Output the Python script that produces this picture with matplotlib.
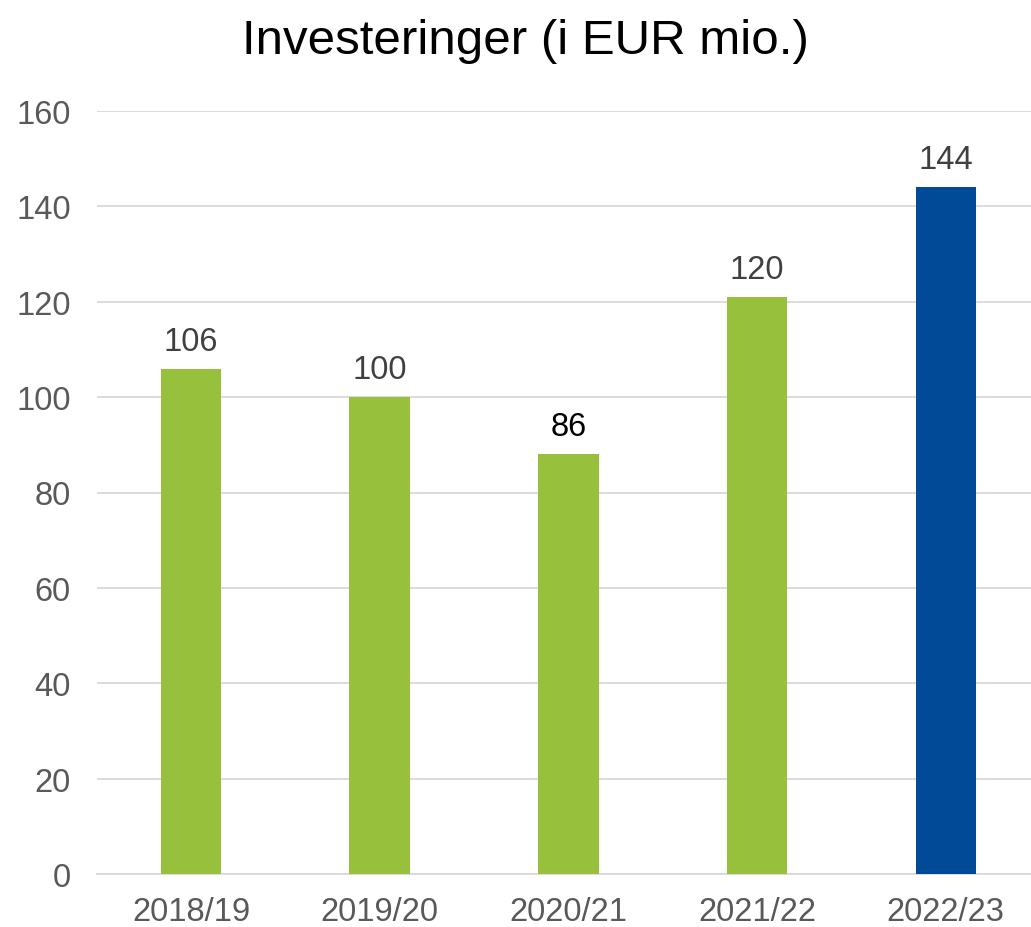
import matplotlib
matplotlib.use("Agg")
import matplotlib.pyplot as plt

plt.rcParams["font.family"] = ["Liberation Sans", "DejaVu Sans"]

# data
years      = ["2018/19", "2019/20", "2020/21", "2021/22", "2022/23"]
bar_values = [106, 100, 88, 121, 144]   # bar heights as drawn
label_text = ["106", "100", "86", "120", "144"]  # printed data labels
label_cols = ["#404040", "#404040", "#000000", "#404040", "#404040"]
bar_cols   = ["#97C13C", "#97C13C", "#97C13C", "#97C13C", "#004A98"]
yticks     = [0, 20, 40, 60, 80, 100, 120, 140, 160]

fig = plt.figure(figsize=(10.31, 9.28), dpi=100)
ax = fig.add_axes([96.6 / 1031, 53 / 928, 943.5 / 1031, 763 / 928])

x = range(len(years))
bars = ax.bar(x, bar_values, width=0.32, color=bar_cols, zorder=3)

for b, txt, col in zip(bars, label_text, label_cols):
    ax.text(b.get_x() + b.get_width() / 2, b.get_height() + 2.5, txt,
            ha="center", va="bottom", fontsize=23.5, color=col)

ax.set_xlim(-0.5, len(years) - 0.5)
ax.set_ylim(0, 160)
ax.set_yticks(yticks)
ax.set_xticks(list(x))
ax.set_xticklabels(years)
ax.tick_params(axis="both", length=0, labelsize=23.5, colors="#595959")
ax.tick_params(axis="y", pad=18.5)
ax.tick_params(axis="x", pad=16)
ax.grid(axis="y", color="#D9D9D9", linewidth=1.3, zorder=0)
for s in ["top", "right", "left"]:
    ax.spines[s].set_visible(False)
ax.spines["bottom"].set_color("#D9D9D9")
ax.spines["bottom"].set_linewidth(1.3)

fig.text(525 / 1031, 1 - 41 / 928, "Investeringer (i EUR mio.)",
         ha="center", va="center", fontsize=35.5, color="#000000")

fig.savefig("out.png", dpi=100)
